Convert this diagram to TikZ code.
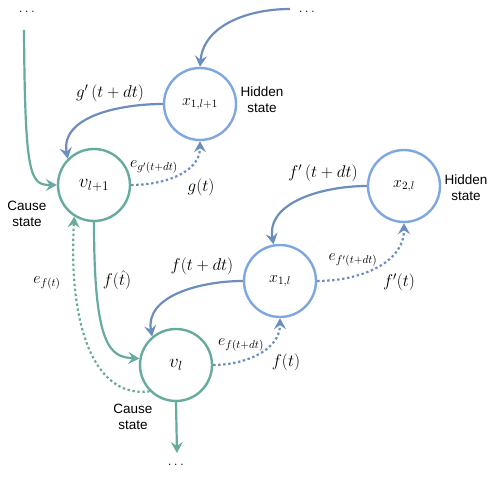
\RequirePackage{fix-cm}
\documentclass[tikz,border=0pt]{standalone}
\usepackage{fontspec}
\setsansfont{Liberation Sans}
\usepackage{amsmath}
\usetikzlibrary{arrows.meta,positioning}
\definecolor{causegreen}{HTML}{67AB9F}
\definecolor{hiddenblue}{HTML}{7EA6E0}
\definecolor{linkblue}{HTML}{6C8EBF}

\begin{document}
\begin{tikzpicture}[x=1pt,y=1pt,
    tip/.style={-{Stealth[length=11pt,width=12pt,inset=4pt]}},
    causenode/.style={circle,draw=causegreen,line width=2.4pt,minimum size=72pt,inner sep=0pt,font=\fontsize{19}{22}\selectfont},
    hiddennode/.style={circle,draw=hiddenblue,line width=2.4pt,minimum size=72pt,inner sep=0pt,font=\fontsize{16}{19}\selectfont},
    causeline/.style={tip,draw=causegreen,line width=2.2pt},
    hiddenline/.style={tip,draw=linkblue,line width=2.2pt},
    errline/.style={dash pattern=on 2.4pt off 2.6pt},
    lab/.style={font=\fontsize{17}{20}\selectfont},
    sublab/.style={font=\fontsize{16}{18}\selectfont},
    dots/.style={font=\fontsize{14}{16}\selectfont},
    statetext/.style={align=center,font=\sffamily\fontsize{13.5}{16}\selectfont}]
    \useasboundingbox (0,0) rectangle (498,477);
    % States
    \node[hiddennode] (x1b) at (200,373) {$x_{1,l+1}$};
    \node[causenode] (v2) at (94,292) {$v_{l+1}$};
    \node[hiddennode] (x2) at (404,291) {$x_{2,l}$};
    \node[hiddennode] (x1) at (280,196) {$x_{1,l}$};
    \node[causenode] (v1) at (176,112) {$v_{l}$};
    % Loose ends
    \node[dots] (dotsa) at (28,465) {$\dots$};
    \node[dots] (dotsb) at (308,465) {$\dots$};
    \node[dots] (dotsc) at (177,12) {$\dots$};
    \coordinate (ina) at (24,447);
    \coordinate (inb) at (290,468);
    \coordinate (outc) at (177,24);
    % State names
    \node[statetext] (hida) at (262,377) {Hidden\\state};
    \node[statetext] (hidb) at (466,289) {Hidden\\state};
    \node[statetext] (caua) at (27,263) {Cause\\state};
    \node[statetext] (caub) at (133,60) {Cause\\state};
    % Top-down predictions
    \draw[causeline] (ina) .. controls (25,300) and (30,292) .. (v2.west);
    \draw[hiddenline] (inb) to[out=180,in=85] (x1b.north);
    \draw[hiddenline] (x1b.west) to[out=180,in=100] (v2.135);
    \draw[causeline] (v2.south) .. controls (94,130) and (110,120) .. (v1.170);
    \draw[hiddenline] (x1.west) to[out=180,in=100] (v1.130);
    \draw[hiddenline] (x2.west) to[out=180,in=100] (x1.100);
    \draw[causeline] (v1.south) -- (outc);
    % Prediction errors
    \draw[hiddenline,errline] (v2.east) to[out=0,in=-90] (x1b.south);
    \draw[hiddenline,errline] (v1.east) to[out=0,in=-90] (x1.south);
    \draw[hiddenline,errline] (x1.east) to[out=0,in=-90] (x2.south);
    \draw[causeline,errline] (v1.225) .. controls (95,78) and (68,150) .. (v2.238);
    % Labels
    \node[lab] (lgp) at (110,384) {$g'\,(t+dt)$};
    \node[sublab] (legp) at (154,310) {$e_{g'(t+dt)}$};
    \node[lab] (lg) at (201,290) {$g(t)$};
    \node[lab] (lfp) at (323,304) {$f'\,(t+dt)$};
    \node[sublab] (lefp) at (353,217) {$e_{f'(t+dt)}$};
    \node[lab] (lfpt) at (399,195) {$f'(t)$};
    \node[lab] (lfdt) at (202,211) {$f(t+dt)$};
    \node[lab] (lfh) at (117,197) {$f(\hat{t})$};
    \node[sublab] (lef) at (47,194) {$e_{f(t)}$};
    \node[sublab] (lefd) at (241,132) {$e_{f(t+dt)}$};
    \node[lab] (lft) at (286,115) {$f(t)$};
\end{tikzpicture}
\end{document}
